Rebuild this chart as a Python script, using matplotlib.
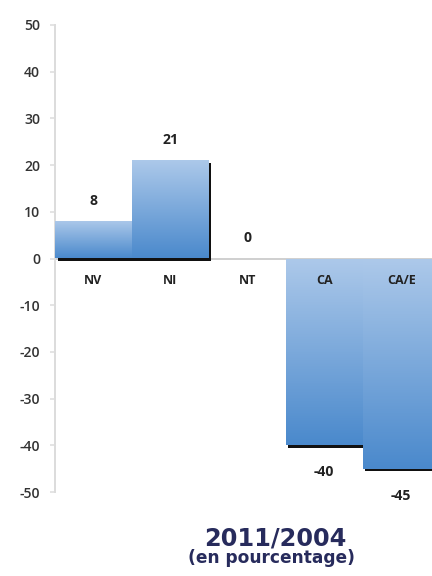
import numpy as np
import matplotlib
matplotlib.use("Agg")
from matplotlib import pyplot
from matplotlib import transforms
from matplotlib.colors import LinearSegmentedColormap

# Évolution 2011/2004 par catégorie
categories = ["NV", "NI", "NT", "CA", "CA/E"]
values = [8, 21, 0, -40, -45]
yticks = [50, 40, 30, 20, 10, 0, -10, -20, -30, -40, -50]

pyplot.rcParams["font.family"] = ["Open Sans", "DejaVu Sans"]
pyplot.rcParams["axes.unicode_minus"] = False

fig = pyplot.figure(figsize=(6, 8), dpi=72)
ax = fig.add_axes([55 / 432, 1 - 492 / 576, 1 - 55 / 432, (492 - 25) / 576])

x = np.arange(len(categories))
width = 1.0
grad = LinearSegmentedColormap.from_list("bleu", ["#4a89cc", "#adc9ea"])
img = np.linspace(0, 1, 256).reshape(-1, 1)

# ligne du zéro
ax.axhline(0, color="#d0d0d0", lw=2, zorder=1)

# ombres décalées vers la droite et le bas
shadow_tr = ax.transData + transforms.ScaledTranslation(2.5 / 72, -2.5 / 72, fig.dpi_scale_trans)
for xi, v in zip(x, values):
    if v != 0:
        ax.bar(xi, v, width=width, color="#111111", transform=shadow_tr, zorder=2)

# barres en dégradé
for xi, v in zip(x, values):
    if v == 0:
        continue
    bar = ax.bar(xi, v, width=width, color="none", zorder=3)[0]
    lo, hi = min(0, v), max(0, v)
    im = ax.imshow(img, cmap=grad, origin="lower", aspect="auto",
                   extent=[xi - width / 2, xi + width / 2, lo, hi], zorder=3)
    im.set_clip_path(bar)

# étiquettes des valeurs
for xi, v in zip(x, values):
    off = 20 if v >= 0 else -27
    ax.annotate(str(v), (xi, v), xytext=(0, off), textcoords="offset points",
                ha="center", va="center", fontsize=14, fontweight="bold",
                color="#222222", zorder=5)

# noms des catégories sous la ligne du zéro
for xi, c in zip(x, categories):
    ax.annotate(c, (xi, 0), xytext=(0, -22), textcoords="offset points",
                ha="center", va="center", fontsize=12.5, fontweight="bold",
                color="#222222", zorder=5)

ax.set_xlim(-0.5, 4.4)
ax.set_ylim(-50, 50)
ax.set_yticks(yticks)
ax.set_xticks([])
for s in ["top", "right", "bottom"]:
    ax.spines[s].set_visible(False)
ax.spines["left"].set_color("#dcdcdc")
ax.spines["left"].set_linewidth(2)
ax.spines["left"].set_bounds(-50, 50)
ax.tick_params(axis="y", length=5, width=1.5, color="#dcdcdc",
               labelsize=14, labelcolor="#333333", pad=10)
for lab in ax.get_yticklabels():
    lab.set_fontweight("semibold")
ax.patch.set_alpha(0)

fig.text(275 / 432, 1 - 538 / 576, "2011/2004", ha="center", va="center",
         fontsize=24, fontweight="bold", color="#272b5c", family="DejaVu Sans")
fig.text(271 / 432, 1 - 558 / 576, "(en pourcentage)", ha="center", va="center",
         fontsize=17, fontweight="bold", color="#272b5c", family="DejaVu Sans")

pyplot.savefig("out.png", dpi=72)
pyplot.close()
